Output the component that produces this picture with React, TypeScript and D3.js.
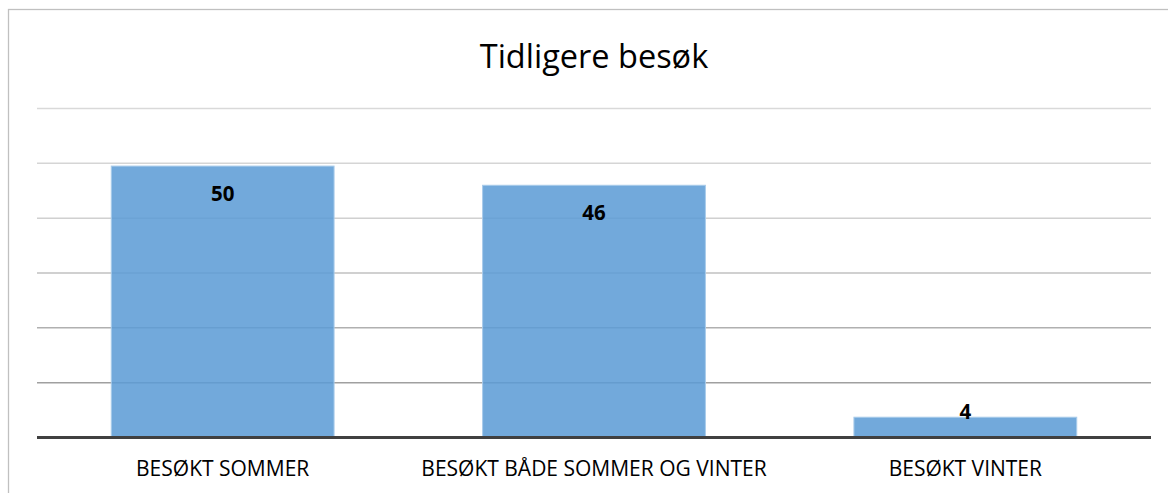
// @ts-nocheck
import React from 'react';
import * as d3 from 'd3';

const categories = ['BESØKT SOMMER', 'BESØKT BÅDE SOMMER OG VINTER', 'BESØKT VINTER'];
const values = [49.5, 46, 3.7];
const gridTicks = [10, 20, 30, 40, 50, 60];

const W = 1168;
const H = 493;
const left = 37;
const right = 1151;
const top = 108.5;
const bottom = 437.5;

export default function App() {
  const x = d3.scaleBand().domain(categories).range([left, right]).paddingInner(0.4).paddingOuter(0.2);
  const y = d3.scaleLinear().domain([0, 60]).range([bottom, top]);
  const gridColor = d3.scaleLinear().domain([10, 40, 60]).range(['#a0a0a0', '#d0d0d0', '#d9d9d9']);
  const fmt = d3.format('.0f');
  const font = '"Open Sans", "Liberation Sans", sans-serif';

  return (
    <svg width={W} height={H} style={{ position: 'absolute', left: 0, top: 0, background: '#fff' }}>
      <rect x={8.5} y={9.5} width={1300} height={600} fill="#fff" stroke="#c0c0c0" strokeWidth={1.3} />
      <text x={594} y={68} textAnchor="middle" fontFamily={font} fontSize={32.5} fill="#000">
        Tidligere besøk
      </text>
      {gridTicks.map(t => (
        <line key={t} x1={left} x2={right} y1={y(t)} y2={y(t)} stroke={gridColor(t)} strokeWidth={1.5} />
      ))}
      {categories.map((c, i) => (
        <rect
          key={c}
          x={x(c)}
          y={y(values[i])}
          width={x.bandwidth()}
          height={y(0) - y(values[i])}
          fill="#5b9bd5"
          fillOpacity={0.86}
          stroke="#a8cbea"
          strokeWidth={1}
        />
      ))}
      <line x1={left} x2={right} y1={y(0)} y2={y(0)} stroke="#404040" strokeWidth={3} />
      {categories.map((c, i) => (
        <text
          key={'v' + c}
          x={x(c) + x.bandwidth() / 2}
          y={Math.min(y(values[i]) + 35, y(0) - 19)}
          textAnchor="middle"
          fontFamily={font}
          fontWeight="bold"
          fontSize={20.5}
          fill="#000"
        >
          {fmt(values[i])}
        </text>
      ))}
      {categories.map(c => (
        <text
          key={'c' + c}
          x={x(c) + x.bandwidth() / 2}
          y={476}
          textAnchor="middle"
          fontFamily={font}
          fontSize={21}
          fill="#000"
        >
          {c}
        </text>
      ))}
    </svg>
  );
}
